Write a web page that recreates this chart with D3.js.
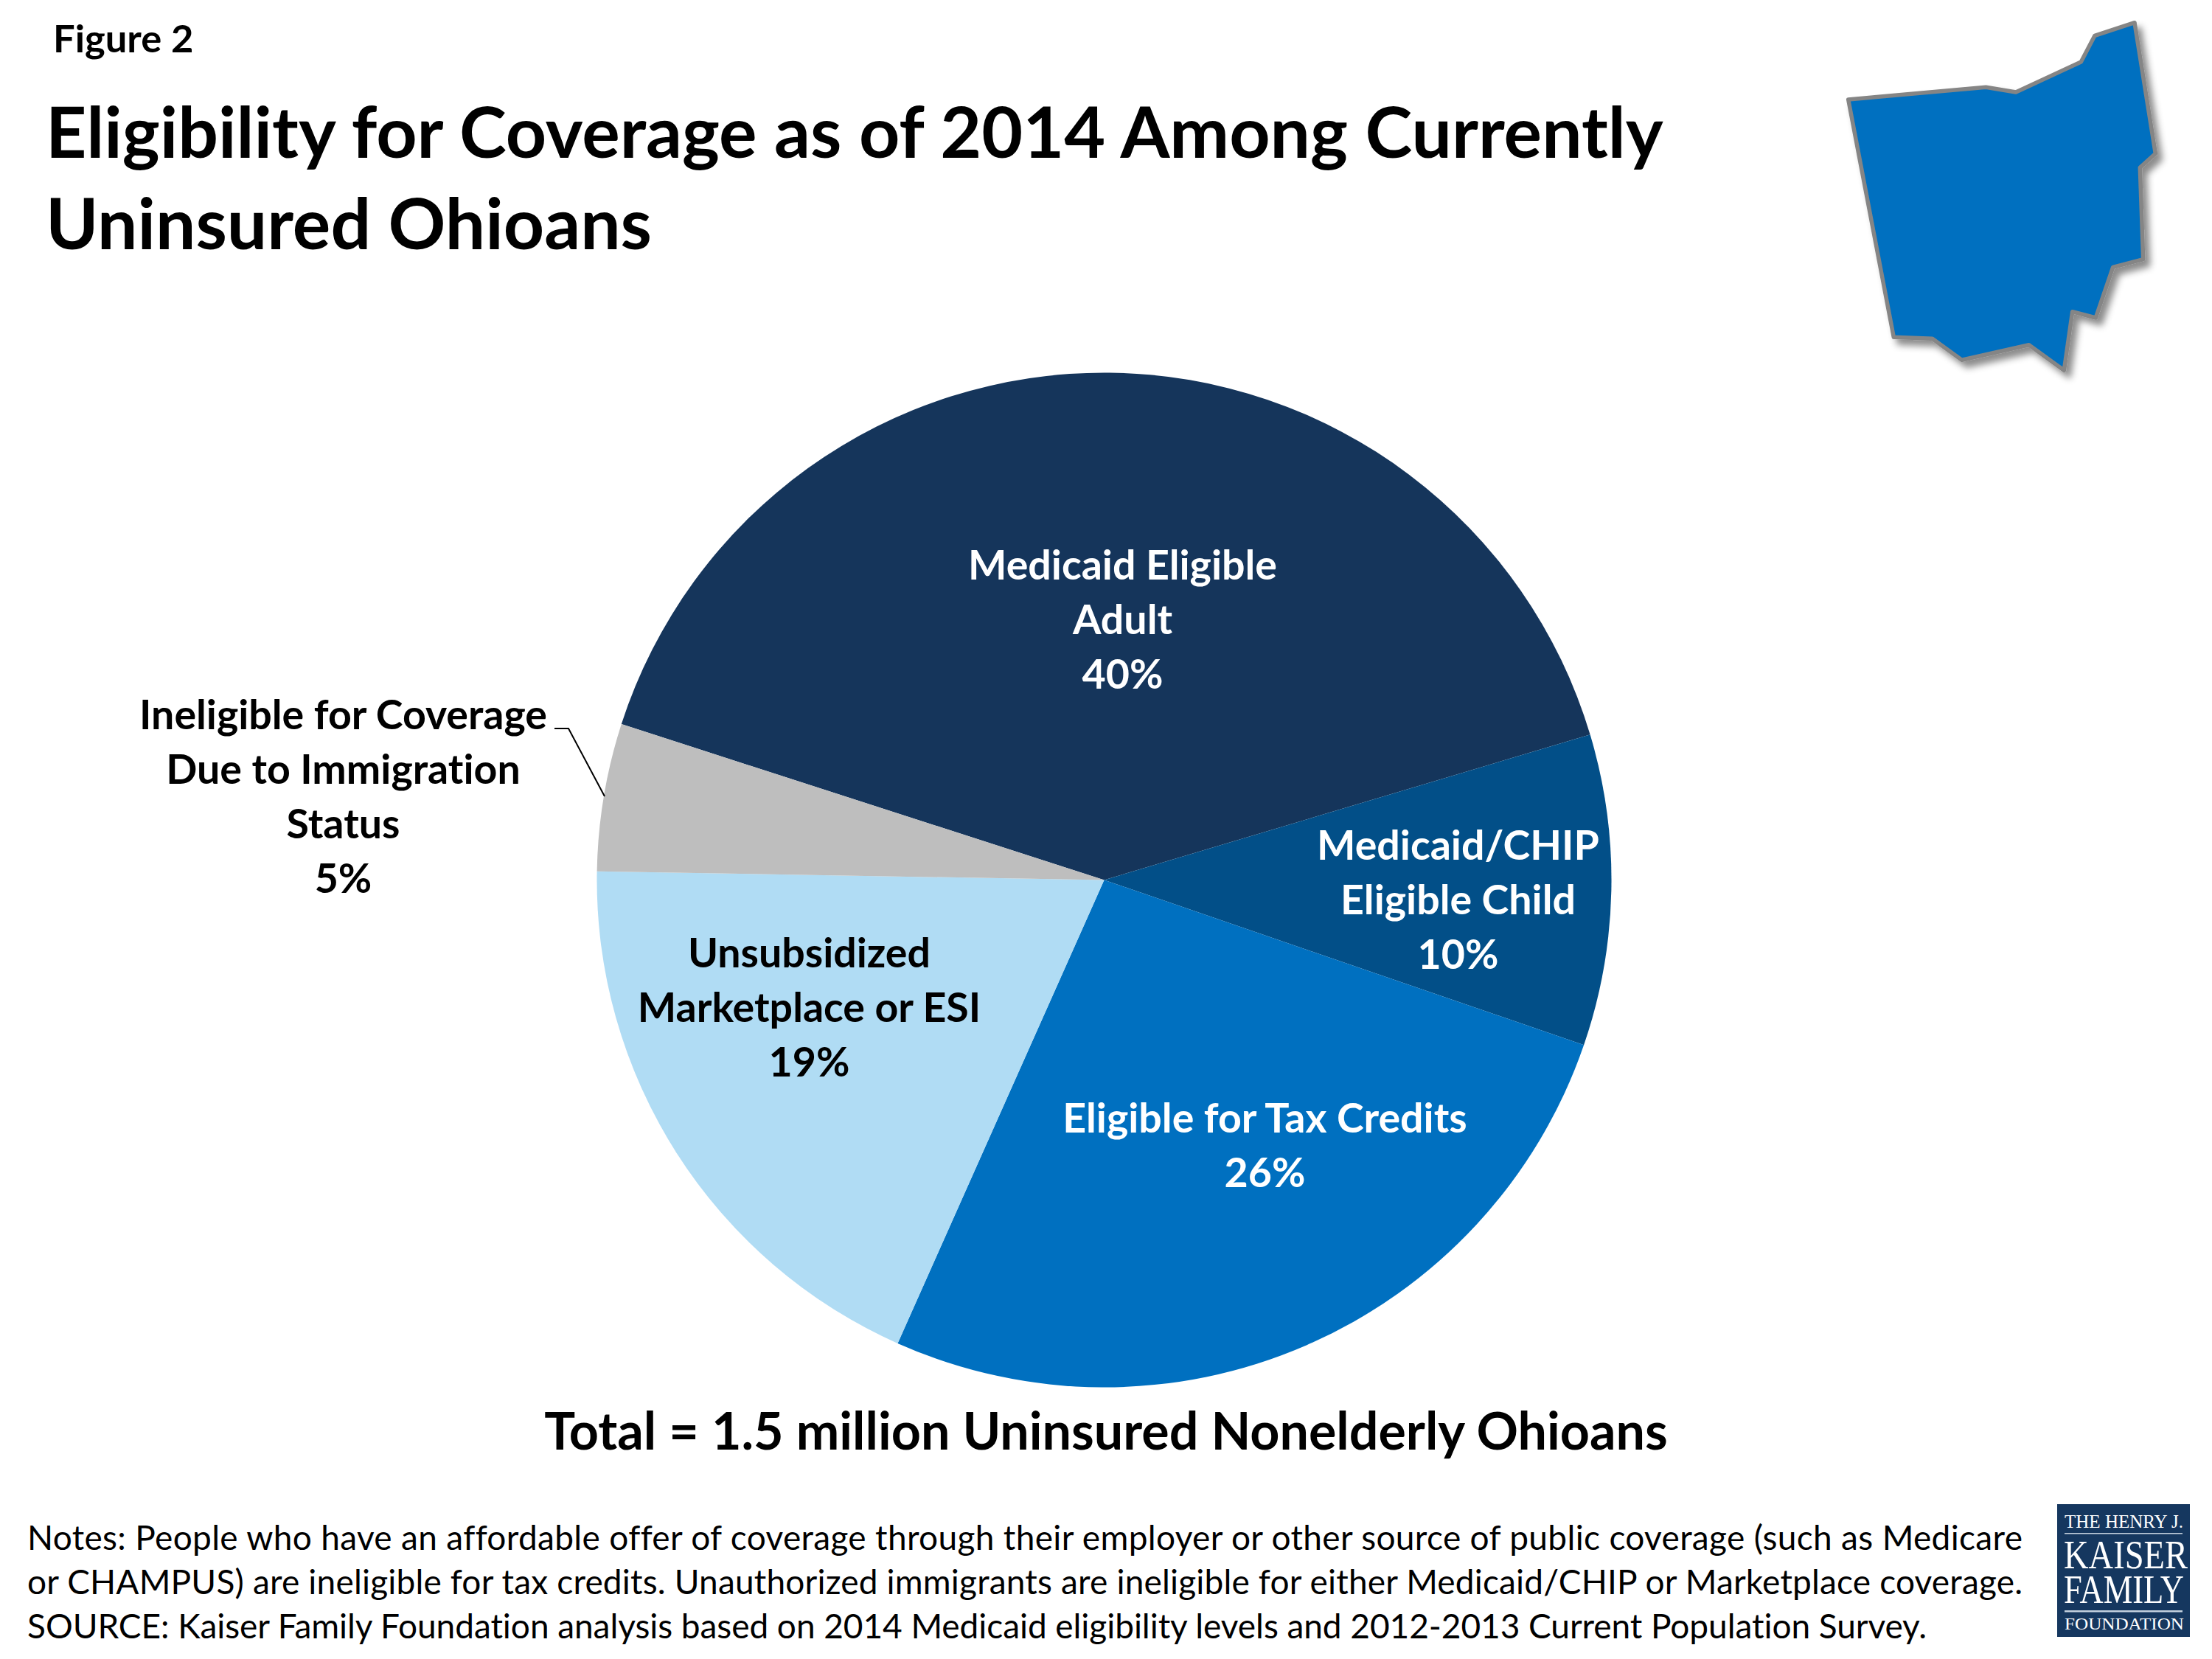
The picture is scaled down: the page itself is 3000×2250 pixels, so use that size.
<!DOCTYPE html>
<html>
<head>
<meta charset="utf-8">
<script src="https://cdn.jsdelivr.net/npm/d3@7"></script>
<style>
  html, body { margin: 0; padding: 0; background: #fff; }
  text { font-family: Lato, "Open Sans", sans-serif; font-variant-ligatures: none; }
</style>
</head>
<body>
<svg id="viz_area" width="3000" height="2250"></svg>
<script>
// values, in drawing order clockwise
const categories = [
  ['Medicaid Eligible', 'Adult'],
  ['Medicaid/CHIP', 'Eligible Child'],
  ['Eligible for Tax Credits'],
  ['Unsubsidized', 'Marketplace or ESI'],
  ['Ineligible for Coverage', 'Due to Immigration', 'Status']
]
const shares = [40.4, 9.9, 26.4, 18.6, 4.7]
const shareLabels = ['40%', '10%', '26%', '19%', '5%']

const sliceColors = ['#15355b', '#024f88', '#0070c0', '#b0dcf4', '#bebebe']
const labelColors = ['#fff', '#fff', '#fff', '#000', '#000']
// first baseline of each label block, relative to the pie centre
const labelOffsets = [[25, -408], [480, -28], [218, 342], [-400, 118], [-1032, -205]]

const titleLines = ['Eligibility for Coverage as of 2014 Among Currently', 'Uninsured Ohioans']
const totalText = 'Total = 1.5 million Uninsured Nonelderly Ohioans'
const noteLines = [
  'Notes: People who have an affordable offer of coverage through their employer or other source of public coverage (such as Medicare',
  'or CHAMPUS) are ineligible for tax credits. Unauthorized immigrants are ineligible for either Medicaid/CHIP or Marketplace coverage.',
  'SOURCE: Kaiser Family Foundation analysis based on 2014 Medicaid eligibility levels and 2012-2013 Current Population Survey.'
]
const noteWidths = [2706, 2706, 2576]

// state outline in reference units, mapped through the scales below
const ohioOutline = [
  [56.7, 135], [243.3, 118.3], [284, 125], [372.3, 84], [391, 48.3], [445, 30.7], [473.3, 208.3],
  [452.3, 227.3], [456.7, 351.7], [415.7, 362.3], [392.3, 431], [360.7, 422.7], [349.3, 502.3],
  [301.7, 467.7], [210.7, 488.3], [170.7, 459.3], [118.3, 457.3]
]

const pieCenter = { x: 1497.5, y: 1193.5 }
const pieRadius = 688
const startAngle = -72.1 * Math.PI / 180

const svg = d3.select('#viz_area')

drawHeader()
drawPie()
drawOhio()
drawFooter()
drawLogo()

function drawHeader() {
  svg.append('text').attr('x', 72).attr('y', 71)
    .attr('font-size', 52.5).attr('font-weight', 700).text('Figure 2')

  svg.selectAll('.title').data(titleLines).enter().append('text')
    .attr('class', 'title')
    .attr('x', 62)
    .attr('y', function (d, i) { return 214 + i * 124 })
    .attr('font-size', 96.5).attr('font-weight', 700)
    .text(function (d) { return d })
}

function drawPie() {
  const pie = d3.pie().sort(null)
    .startAngle(startAngle)
    .endAngle(startAngle + 2 * Math.PI)
  const arc = d3.arc().innerRadius(0).outerRadius(pieRadius)

  const g = svg.append('g')
    .attr('id', 'pie')
    .attr('transform', 'translate(' + pieCenter.x + ',' + pieCenter.y + ')')

  g.selectAll('path').data(pie(shares)).enter().append('path')
    .attr('d', arc)
    .attr('fill', function (d, i) { return sliceColors[i] })

  categories.forEach(function (lines, i) {
    const rows = lines.concat(shareLabels[i])
    g.selectAll('.label-' + i).data(rows).enter().append('text')
      .attr('class', 'label-' + i)
      .attr('x', labelOffsets[i][0])
      .attr('y', function (d, j) { return labelOffsets[i][1] + j * 74 })
      .attr('text-anchor', 'middle')
      .attr('font-size', 55.5).attr('font-weight', 700)
      .attr('fill', labelColors[i])
      .text(function (d) { return d })
  })

  // leader from the label to the grey slice
  const leader = d3.line()
  svg.append('path')
    .attr('d', leader([[752, 988], [771, 988], [820, 1080]]))
    .attr('fill', 'none').attr('stroke', '#000').attr('stroke-width', 2)
}

function drawOhio() {
  const defs = svg.append('defs')
  const filter = defs.append('filter').attr('id', 'map-shadow')
    .attr('x', '-10%').attr('y', '-10%').attr('width', '125%').attr('height', '125%')
  filter.append('feDropShadow')
    .attr('dx', 7).attr('dy', 8).attr('stdDeviation', 5)
    .attr('flood-color', '#000').attr('flood-opacity', 0.45)

  const xScale = d3.scaleLinear().domain([0, 550]).range([2450, 3000])
  const yScale = d3.scaleLinear().domain([0, 530]).range([0, 530])
  const outline = d3.line()
    .x(function (d) { return xScale(d[0]) })
    .y(function (d) { return yScale(d[1]) })
    .curve(d3.curveLinearClosed)

  svg.append('path')
    .attr('d', outline(ohioOutline))
    .attr('fill', '#0070c0')
    .attr('stroke', '#858585').attr('stroke-width', 5.5)
    .attr('stroke-linejoin', 'round')
    .attr('filter', 'url(#map-shadow)')
}

function drawFooter() {
  svg.append('text').attr('x', 1500).attr('y', 1966)
    .attr('text-anchor', 'middle')
    .attr('font-size', 70).attr('font-weight', 700)
    .text(totalText)

  svg.selectAll('.note').data(noteLines).enter().append('text')
    .attr('class', 'note')
    .attr('x', 37)
    .attr('y', function (d, i) { return 2102 + i * 60 })
    .attr('font-size', 46)
    .attr('textLength', function (d, i) { return noteWidths[i] })
    .attr('lengthAdjust', 'spacing')
    .text(function (d) { return d })
}

function drawLogo() {
  const g = svg.append('g').attr('id', 'logo')
  g.append('rect').attr('x', 2790).attr('y', 2040).attr('width', 180).attr('height', 180).attr('fill', '#15375f')

  const rows = [
    { t: 'THE HENRY J.', y: 2072, s: 26, x: 2800, w: 161 },
    { t: 'KAISER', y: 2127, s: 54, x: 2799, w: 168 },
    { t: 'FAMILY', y: 2174, s: 54, x: 2799, w: 163 },
    { t: 'FOUNDATION', y: 2210, s: 23, x: 2800, w: 162 }
  ]
  g.selectAll('text').data(rows).enter().append('text')
    .attr('x', function (d) { return d.x })
    .attr('y', function (d) { return d.y })
    .attr('font-size', function (d) { return d.s })
    .attr('textLength', function (d) { return d.w })
    .attr('lengthAdjust', 'spacingAndGlyphs')
    .attr('fill', '#fff')
    .style('font-family', '"Liberation Serif", serif')
    .text(function (d) { return d.t })

  g.selectAll('rect.rule').data([[2079, 1.5], [2184, 2.5]]).enter().append('rect')
    .attr('class', 'rule')
    .attr('x', 2800).attr('width', 160)
    .attr('y', function (d) { return d[0] })
    .attr('height', function (d) { return d[1] })
    .attr('fill', '#c4d0de')
}
</script>
</body>
</html>
